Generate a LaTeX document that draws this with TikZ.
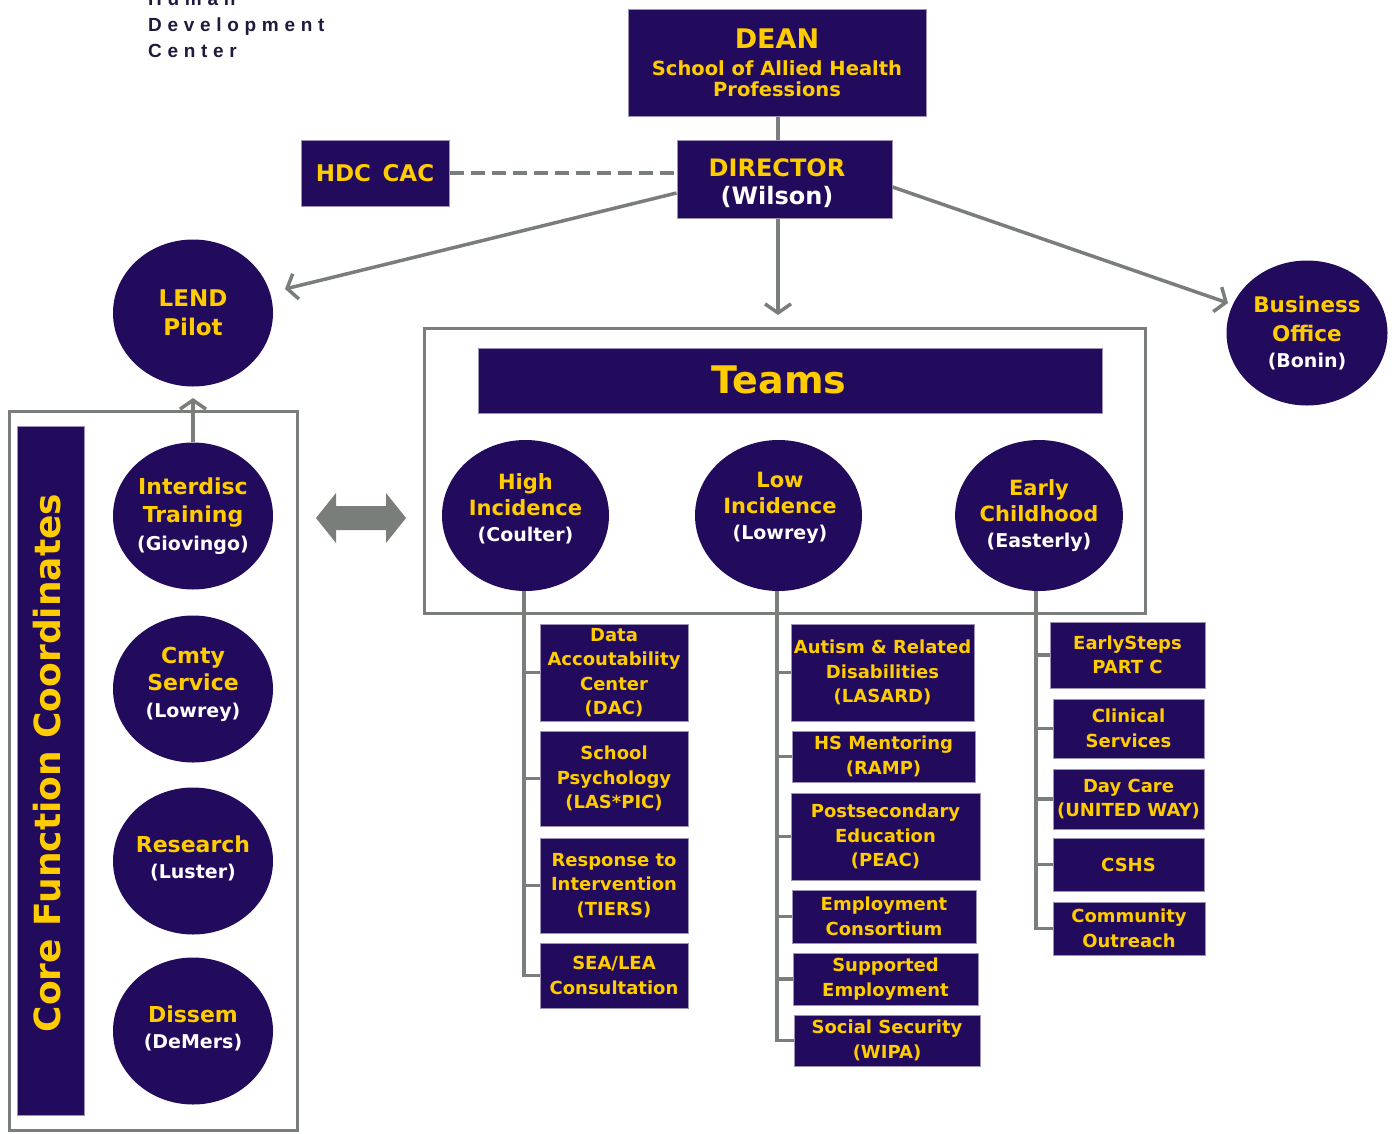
\documentclass[tikz,border=0pt]{standalone}
\usepackage{fontspec}
\setmainfont{DejaVu Sans}
\newfontfamily\hdcfont[LetterSpace=30]{Liberation Sans}
\usetikzlibrary{arrows.meta,positioning,shapes.geometric}

\definecolor{hdcnavy}{RGB}{34,10,92}
\definecolor{hdcgold}{RGB}{255,204,0}
\definecolor{hdcgray}{RGB}{122,126,122}
\definecolor{hdcink}{RGB}{30,26,60}

\newcommand{\wname}[1]{{\color{white}\fontsize{19}{22}\selectfont(#1)}}

\tikzset{
  navybox/.style={rectangle, fill=hdcnavy, draw=hdcnavy!45!white, line width=1pt,
    text=hdcgold, font=\bfseries\fontsize{18}{24.5}\selectfont, align=center, inner sep=0pt},
  navycirc/.style={ellipse, fill=hdcnavy, text=hdcgold,
    font=\bfseries\fontsize{21}{26}\selectfont, align=center, inner sep=0pt,
    minimum width=160, minimum height=147},
  circtext/.style={text=hdcgold, font=\bfseries\fontsize{21}{26}\selectfont, align=center, inner sep=0pt},
  conn/.style={draw=hdcgray, line width=3.5pt},
  arr/.style={conn, -{Straight Barb[length=9pt,width=26pt]}},
  outline/.style={draw=hdcgray, line width=3pt},
  hdcname/.style={anchor=base west, inner sep=0pt, text=hdcink,
    font=\hdcfont\bfseries\fontsize{19}{26}\selectfont},
}

\begin{document}
\begin{tikzpicture}[x=1pt,y=-1pt]
  \clip (0,0) rectangle (1400,1133);

  % Title
  \node[hdcname] (hdc1) at (148,5) {Human};
  \node[hdcname] (hdc2) at (148,31) {Development};
  \node[hdcname] (hdc3) at (148,57) {Center};

  % Frames
  \draw[outline] (424,328) rectangle (1145,613);
  \draw[outline] (9,411) rectangle (297,1130);

  % Top
  \node[navybox, minimum width=298, minimum height=107, font=\bfseries\fontsize{19.5}{21}\selectfont] (dean) at (777,62.5)
    {{\fontsize{27}{30}\selectfont DEAN}\\[6pt]School of Allied Health\\Professions};
  \node[navybox, minimum width=215, minimum height=78] (director) at (784.5,179) {};
  \node[circtext, font=\bfseries\fontsize{24}{28}\selectfont] (dirtext) at (777,183) {DIRECTOR\\{\color{white}(Wilson)}};
  \node[navybox, minimum width=148, minimum height=66, font=\bfseries\fontsize{23}{26}\selectfont] (hdccac) at (375,173)
    {HDC\enspace CAC};
  \node[navycirc, font=\bfseries\fontsize{23}{29}\selectfont] (lend) at (193,313) {LEND\\Pilot};
  \node[navycirc, minimum width=161, minimum height=145, font=\bfseries\fontsize{21.5}{29}\selectfont] (busoff) at (1307,333)
    {Business\\Office\\[-3pt]\wname{Bonin}};

  % Teams
  \node[navybox, minimum width=624, minimum height=65] (teams) at (790,380.5) {};
  \node[circtext, font=\bfseries\fontsize{38}{42}\selectfont] (teamstext) at (779,380) {Teams};
  \node[navycirc, minimum width=167, minimum height=151] (high) at (525.5,515.5) {};
  \node[circtext] (hightext) at (525.5,509) {High\\Incidence\\\wname{Coulter}};
  \node[navycirc, minimum width=167, minimum height=151] (low) at (778.5,515.5) {};
  \node[circtext] (lowtext) at (780,507.5) {Low\\Incidence\\\wname{Lowrey}};
  \node[navycirc, minimum width=166, minimum height=151] (early) at (1039,515.5) {Early\\Childhood\\\wname{Easterly}};

  % Core functions
  \node[navybox, minimum width=67, minimum height=689] (corebar) at (50.5,770.5) {};
  \node[rotate=90, text=hdcgold, font=\bfseries\fontsize{36}{40}\selectfont, inner sep=0pt] (corelbl) at (47,763)
    {Core Function Coordinates};
  \node[navycirc, font=\bfseries\fontsize{22}{28}\selectfont] (itrain) at (193,516) {Interdisc\\Training\\\wname{Giovingo}};
  \node[navycirc] (cmty) at (193,689) {};
  \node[circtext, font=\bfseries\fontsize{22}{27}\selectfont] (cmtytext) at (193,684) {Cmty\\Service\\\wname{Lowrey}};
  \node[navycirc] (research) at (193,861) {};
  \node[circtext, font=\bfseries\fontsize{22}{26}\selectfont] (restext) at (193,858) {Research\\\wname{Luster}};
  \node[navycirc] (dissem) at (193,1031) {};
  \node[circtext, font=\bfseries\fontsize{22}{26}\selectfont] (distext) at (193,1028) {Dissem\\\wname{DeMers}};

  % High incidence programs
  \node[navybox, minimum width=148, minimum height=97] (dac) at (614,672.5) {Data\\Accoutability\\Center\\(DAC)};
  \node[navybox, minimum width=148, minimum height=95] (lasspic) at (614,778.5) {School\\Psychology\\(LAS*PIC)};
  \node[navybox, minimum width=148, minimum height=95] (tiers) at (614,885.5) {Response to\\Intervention\\(TIERS)};
  \node[navybox, minimum width=148, minimum height=65] (sealea) at (614,975.5) {SEA/LEA\\Consultation};

  % Low incidence programs
  \node[navybox, minimum width=183, minimum height=97] (lasard) at (882.5,672.5) {Autism \& Related\\Disabilities\\(LASARD)};
  \node[navybox, minimum width=183, minimum height=51] (ramp) at (883.5,756.5) {HS Mentoring\\(RAMP)};
  \node[navybox, minimum width=189, minimum height=87] (peac) at (885.5,836.5) {Postsecondary\\Education\\(PEAC)};
  \node[navybox, minimum width=184, minimum height=53] (empcon) at (884,916.5) {Employment\\Consortium};
  \node[navybox, minimum width=185, minimum height=52] (supemp) at (885.5,979) {Supported\\Employment};
  \node[navybox, minimum width=186, minimum height=51] (wipa) at (887,1040.5) {Social Security\\(WIPA)};

  % Early childhood programs
  \node[navybox, minimum width=155, minimum height=66] (esteps) at (1127.5,655) {EarlySteps\\PART C};
  \node[navybox, minimum width=151, minimum height=59] (clinic) at (1128.5,728.5) {Clinical\\Services};
  \node[navybox, minimum width=151, minimum height=60] (daycare) at (1128.5,799) {Day Care\\(UNITED WAY)};
  \node[navybox, minimum width=151, minimum height=53] (cshs) at (1128.5,864.5) {CSHS};
  \node[navybox, minimum width=152, minimum height=53] (outreach) at (1129,928.5) {Community\\Outreach};

  % Tips
  \coordinate (lendtip) at (285,289);
  \coordinate (teamstip) at (778,315);
  \coordinate (bustip) at (1228,303);
  \coordinate (coretip) at (193,398);

  % Connectors
  \draw[conn] (dean.south -| 778,0) -- (director.north -| 778,0);
  \draw[conn, dash pattern=on 14pt off 7pt] (hdccac.east) -- (hdccac.east -| director.west);
  \draw[arr] (director.west |- 0,193) -- (lendtip);
  \draw[arr] (director.south -| teamstip) -- (teamstip);
  \draw[arr] (director.east |- 0,187) -- (bustip);
  \draw[arr] (itrain.north) -- (coretip);

  \draw[conn] (high.south -| 524,0) |- (sealea.west);
  \foreach \p in {dac,lasspic,tiers}
    \draw[conn] (\p.west -| 524,0) -- (\p.west);
  \draw[conn] (low.south -| 777,0) |- (wipa.west);
  \foreach \p in {lasard,ramp,peac,empcon,supemp}
    \draw[conn] (\p.west -| 777,0) -- (\p.west);
  \draw[conn] (early.south -| 1036,0) |- (outreach.west);
  \foreach \p in {esteps,clinic,daycare,cshs}
    \draw[conn] (\p.west -| 1036,0) -- (\p.west);

  % Two-way link
  \fill[hdcgray] (316,518) -- (336,493) -- (336,506) -- (386,506) -- (386,493) -- (406,518)
    -- (386,543) -- (386,530) -- (336,530) -- (336,543) -- cycle;
\end{tikzpicture}
\end{document}
